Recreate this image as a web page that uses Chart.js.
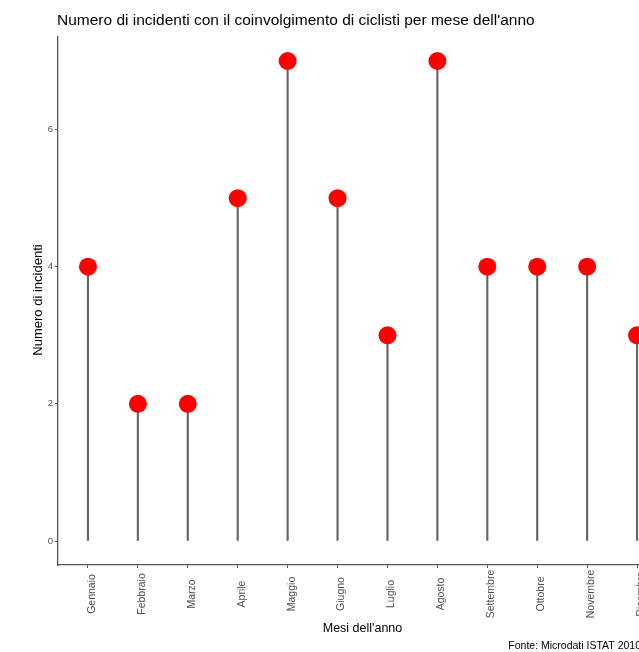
<!DOCTYPE html>
<html>
<head>
<meta charset="utf-8">
<script src="https://cdn.jsdelivr.net/npm/chart.js@4/dist/chart.umd.min.js"></script>
<style>
  html, body { margin: 0; padding: 0; background: #fff; overflow: hidden; }
  #wrap { width: 639px; height: 652px; overflow: hidden; position: relative; }
  canvas { display: block; }
</style>
</head>
<body>
<div id="wrap"><canvas id="c" width="676" height="652" style="width:676px;height:652px"></canvas></div>
<script>
const titleText = "Numero di incidenti con il coinvolgimento di ciclisti per mese dell'anno";
const xTitle = "Mesi dell'anno";
const yTitle = "Numero di incidenti";
const captionText = "Fonte: Microdati ISTAT 2010";

const months = ["Gennaio", "Febbraio", "Marzo", "Aprile", "Maggio", "Giugno",
                "Luglio", "Agosto", "Settembre", "Ottobre", "Novembre", "Dicembre"];
const incidents = [4, 2, 2, 5, 7, 5, 3, 7, 4, 4, 4, 3];
const yTicks = [0, 2, 4, 6];

const points = months.map((m, i) => ({ x: i + 1, y: incidents[i] }));

const FONT = "'Liberation Sans', Arial, sans-serif";

const textPlugin = {
  id: 'texts',
  afterDraw(chart) {
    const ctx = chart.ctx;
    const xs = chart.scales.x;
    const area = chart.chartArea;
    ctx.save();
    // title
    ctx.fillStyle = '#000';
    ctx.font = '15.5px ' + FONT;
    ctx.textAlign = 'left';
    ctx.textBaseline = 'middle';
    ctx.fillText(titleText, 57, 21);
    // month labels, vertical, centred under each tick
    ctx.fillStyle = '#4d4d4d';
    ctx.font = '10.5px ' + FONT;
    ctx.textAlign = 'center';
    months.forEach((m, i) => {
      const px = xs.getPixelForValue(i + 1);
      ctx.save();
      ctx.translate(px + 4, 594);
      ctx.rotate(-Math.PI / 2);
      ctx.fillText(m, 0, 0);
      ctx.restore();
    });
    // axis titles
    ctx.fillStyle = '#000';
    ctx.font = '12.5px ' + FONT;
    ctx.fillText(xTitle, (area.left + area.right) / 2, 629);
    ctx.save();
    ctx.font = '13px ' + FONT;
    ctx.translate(38, 300);
    ctx.rotate(-Math.PI / 2);
    ctx.fillText(yTitle, 0, 0);
    ctx.restore();
    // caption
    ctx.font = '10.5px ' + FONT;
    ctx.textAlign = 'right';
    ctx.fillText(captionText, 641, 646);
    ctx.restore();
  }
};

new Chart(document.getElementById('c'), {
  data: {
    datasets: [
      {
        type: 'line',
        data: points,
        showLine: false,
        pointRadius: 9,
        pointHoverRadius: 9,
        pointBackgroundColor: '#ff0000',
        pointBorderColor: '#ff0000',
        pointBorderWidth: 0,
        order: 0
      },
      {
        type: 'bar',
        data: points,
        backgroundColor: '#666666',
        barThickness: 1.5,
        order: 1
      }
    ]
  },
  options: {
    responsive: false,
    animation: false,
    devicePixelRatio: 1,
    layout: { padding: { top: 37, right: 7, left: 0, bottom: 0 } },
    plugins: { legend: { display: false }, title: { display: false }, tooltip: { enabled: false } },
    scales: {
      x: {
        type: 'linear',
        offset: false,
        min: 0.4,
        max: 12.6,
        afterBuildTicks: s => { s.ticks = months.map((m, i) => ({ value: i + 1 })); },
        afterFit: s => { s.height = 87; },
        ticks: { display: false },
        grid: { offset: false, drawOnChartArea: false, drawTicks: true, tickLength: 3, color: '#555', lineWidth: 1 },
        border: { display: true, color: '#555', width: 1.3 }
      },
      y: {
        type: 'linear',
        min: -0.35,
        max: 7.35,
        afterBuildTicks: s => { s.ticks = yTicks.map(v => ({ value: v })); },
        afterFit: s => { s.width = 58; },
        ticks: { color: '#4d4d4d', font: { family: FONT, size: 9.5 }, padding: 2 },
        grid: { drawOnChartArea: false, drawTicks: true, tickLength: 3, color: '#555', lineWidth: 1 },
        border: { display: true, color: '#555', width: 1.3 }
      }
    }
  },
  plugins: [textPlugin]
});
</script>
</body>
</html>
